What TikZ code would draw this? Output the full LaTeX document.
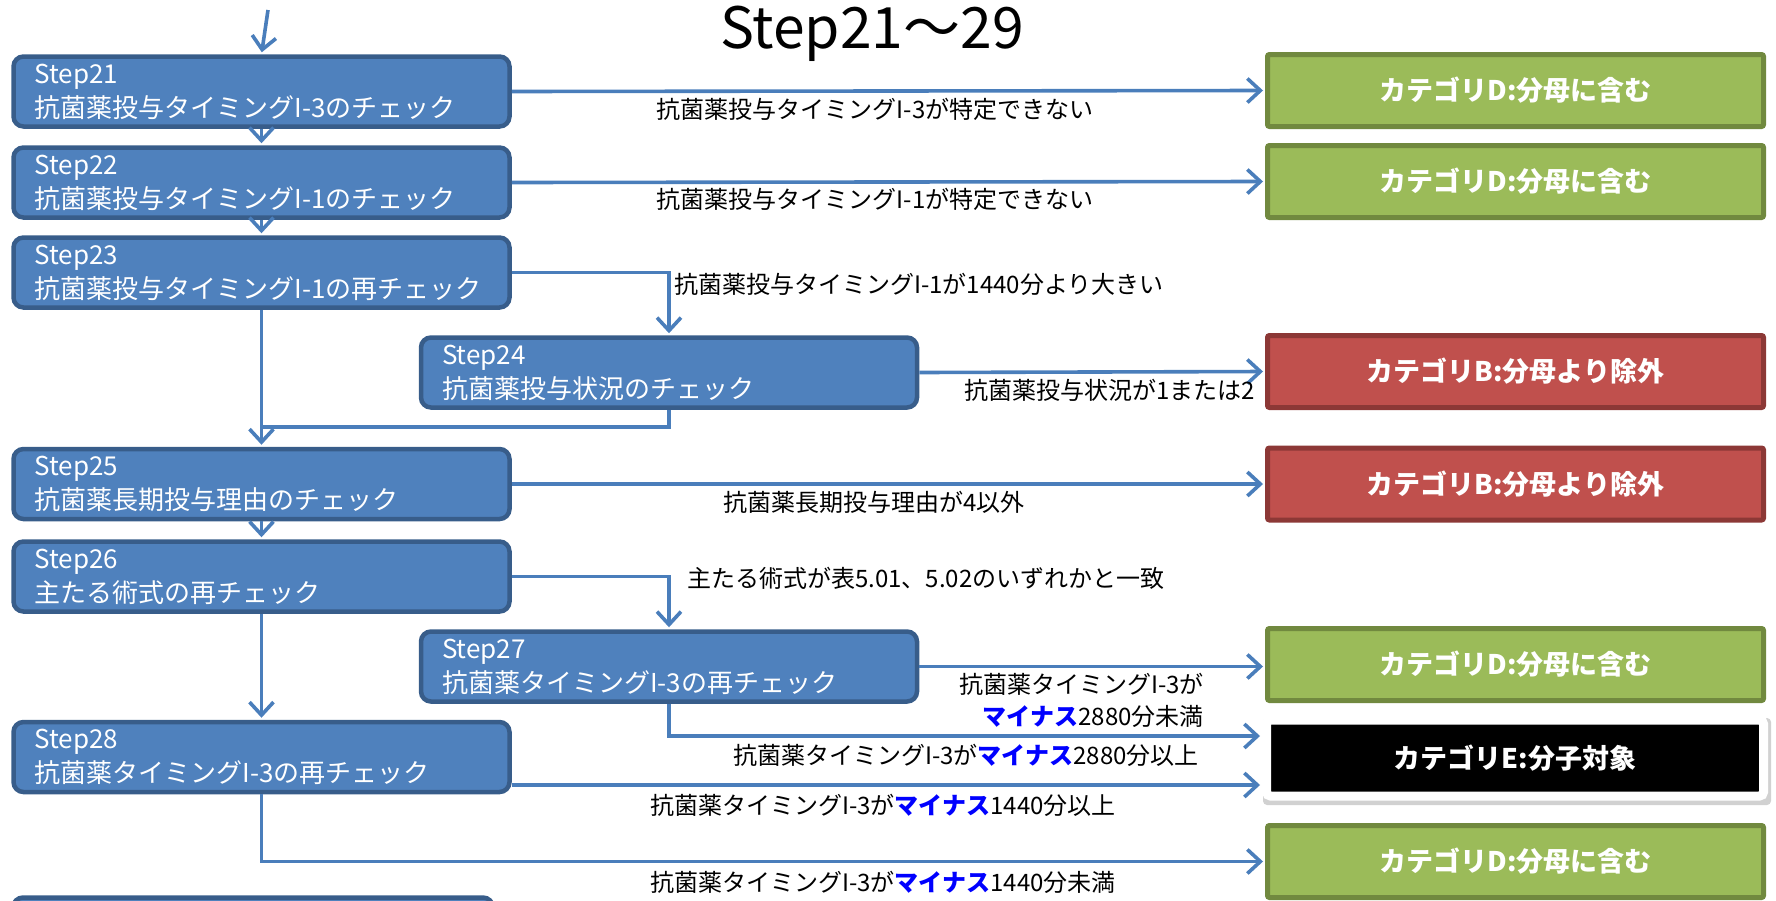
\documentclass[tikz,border=0pt]{standalone}
\usepackage{fontspec}
\setmainfont{Noto Sans CJK JP}
\usetikzlibrary{arrows.meta}

\definecolor{stepfill}{HTML}{4F81BD}
\definecolor{stepedge}{HTML}{385D8A}
\definecolor{flowline}{HTML}{4A7EBB}
\definecolor{catgreen}{HTML}{9BBB59}
\definecolor{catgreenedge}{HTML}{71893F}
\definecolor{catred}{HTML}{C0504D}
\definecolor{catrededge}{HTML}{8C3836}
\definecolor{minusblue}{HTML}{0000FF}

\tikzset{every picture/.style={line width=0.75pt}}
\tikzset{
  stepbox/.style={draw=stepedge, fill=stepfill, line width=2.25pt, rounded corners=5pt,
    minimum width=248pt, minimum height=35pt, inner sep=0pt, text width=227pt, align=left,
    text=white, font=\fontsize{13}{17}\selectfont},
  catbox/.style={line width=2.5pt, rounded corners=1pt, minimum width=248pt, minimum height=36pt,
    text=white, font=\bfseries\fontsize{13.5}{16}\selectfont},
  catD/.style={catbox, draw=catgreenedge, fill=catgreen},
  catB/.style={catbox, draw=catrededge, fill=catred},
  catE/.style={catbox, draw=white, fill=black, line width=4.5pt, rounded corners=2pt,
    minimum width=248.5pt, minimum height=38pt},
  flowplain/.style={draw=flowline, line width=1.8pt},
  flow/.style={flowplain, shorten >=1pt, -{Straight Barb[length=6.5pt,width=12pt]}},
  lbl/.style={inner sep=0.75pt, font=\fontsize{12}{16}\selectfont},
}
\newcommand{\mns}{\textcolor{minusblue}{\bfseries マイナス}}

\begin{document}
\begin{tikzpicture}[x=0.5pt,y=0.5pt,yscale=-1,xscale=1]
	\useasboundingbox (0,0) rectangle (1776,900);
	
	% Title
	\draw (872,48) node [anchor=base, inner sep=0pt, font=\fontsize{28.5}{34}\selectfont] (title) {Step21～29};
	
	%Shape: Rounded Rect (steps)
	\draw (261.5,91.5) node [stepbox] (s21) {Step21\\抗菌薬投与タイミングI-3のチェック};
	\draw (261.5,182.5) node [stepbox] (s22) {Step22\\抗菌薬投与タイミングI-1のチェック};
	\draw (261.5,272.5) node [stepbox] (s23) {Step23\\抗菌薬投与タイミングI-1の再チェック};
	\draw (669,372.5) node [stepbox] (s24) {Step24\\抗菌薬投与状況のチェック};
	\draw (261.5,484) node [stepbox] (s25) {Step25\\抗菌薬長期投与理由のチェック};
	\draw (261.5,576.5) node [stepbox] (s26) {Step26\\主たる術式の再チェック};
	\draw (669,666.5) node [stepbox] (s27) {Step27\\抗菌薬タイミングI-3の再チェック};
	\draw (261.5,757) node [stepbox] (s28) {Step28\\抗菌薬タイミングI-3の再チェック};
	%Shape: Rounded Rect (next step, cut off)
	\draw [draw=stepedge, fill=stepfill, line width=2.25pt, rounded corners=5pt] (13,897.5) rectangle (493,960);
	
	%Shape: Rectangle (categories)
	\draw (1515.5,90.5) node [catD] (d1) {カテゴリD:分母に含む};
	\draw (1515.5,181.5) node [catD] (d2) {カテゴリD:分母に含む};
	\draw (1515.5,371.5) node [catB] (b1) {カテゴリB:分母より除外};
	\draw (1515.5,484) node [catB] (b2) {カテゴリB:分母より除外};
	\draw (1515.5,664.5) node [catD] (d3) {カテゴリD:分母に含む};
	%Shape: shadow behind E
	\fill [black, opacity=0.18, rounded corners=2pt] (1263,718) rectangle (1771,805);
	\draw (1515,758) node [catE] (e1) {カテゴリE:分子対象};
	\draw (1515.5,861.5) node [catD] (d4) {カテゴリD:分母に含む};
	
	\coordinate (entry) at (268,10);
	\coordinate (j24) at (261.5,427);
	
	%Straight Lines
	\draw [flow] (entry) -- (s21.north);
	\draw [flow] (s21.south) -- (s22.north);
	\draw [flow] (s22.south) -- (s23.north);
	\draw [flow] (s21.east) -- (d1.west);
	\draw [flow] (s22.east) -- (d2.west);
	\draw [flow] (s23.east) -| (s24.north);
	\draw [flow] (s23.south) -- (s25.north);
	\draw [flowplain] (s24.south) |- (j24);
	\draw [flow] (s24.east) -- (b1.west);
	\draw [flow] (s25.east) -- (b2.west);
	\draw [flow] (s25.south) -- (s26.north);
	\draw [flow] (s26.east) -| (s27.north);
	\draw [flow] (s26.south) -- (s28.north);
	\draw [flow] (s27.east) -- (s27.east -| d3.west);
	\draw [flow] (s27.south) |- ([yshift=-11pt]e1.west);
	\draw [flow] ([yshift=14pt]s28.east) -- ([yshift=14pt]s28.east -| e1.west);
	\draw [flow] (s28.south) |- (d4.west);
	
	% Text Node
	\draw (875,109) node [lbl] (lblA) {抗菌薬投与タイミングI-3が特定できない};
	% Text Node
	\draw (875,199) node [lbl] (lblB) {抗菌薬投与タイミングI-1が特定できない};
	% Text Node
	\draw (672,284) node [lbl, anchor=west] (lblC) {抗菌薬投与タイミングI-1が1440分より大きい};
	% Text Node
	\draw (1257,390) node [lbl, anchor=east] (lblD) {抗菌薬投与状況が1または2};
	% Text Node
	\draw (874,502) node [lbl] (lblE) {抗菌薬長期投与理由が4以外};
	% Text Node
	\draw (685,578) node [lbl, anchor=west] (lblF) {主たる術式が表5.01、5.02のいずれかと一致};
	% Text Node
	\draw (1206,700) node [lbl, anchor=east, align=right] (lblG) {抗菌薬タイミングI-3が\\\mns 2880分未満};
	% Text Node
	\draw (1201,755) node [lbl, anchor=east] (lblH) {抗菌薬タイミングI-3が\mns 2880分以上};
	% Text Node
	\draw (883,805) node [lbl] (lblI) {抗菌薬タイミングI-3が\mns 1440分以上};
	% Text Node
	\draw (883,882) node [lbl] (lblJ) {抗菌薬タイミングI-3が\mns 1440分未満};
	
\end{tikzpicture}
\end{document}
